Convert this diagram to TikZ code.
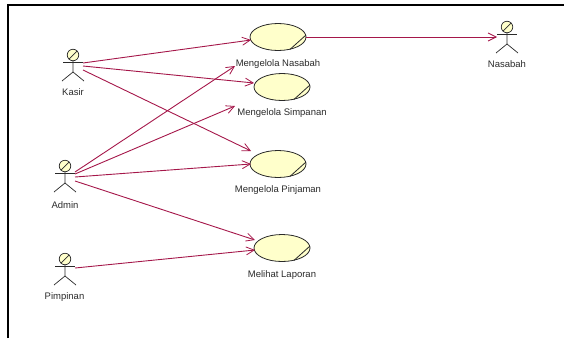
\documentclass[tikz,border=0pt]{standalone}
\usepackage{fontspec}
\setmainfont{Liberation Sans}
\usetikzlibrary{arrows.meta,shapes.geometric}
\definecolor{assoc}{HTML}{A5174A}
\definecolor{ucfill}{HTML}{FFFFCB}
\definecolor{ink}{HTML}{2A2A2A}
\tikzset{
  frameline/.style={line width=2pt,black},
  lbl/.style={font=\fontsize{9.5}{11}\selectfont,text=ink,inner sep=0pt},
  ucase/.style={ellipse,draw=ink,fill=ucfill,line width=0.8pt,minimum width=56pt,minimum height=27pt,inner sep=0pt},
  actorbody/.style={draw=ink,line width=0.7pt},
  actorhead/.style={circle,draw=ink,fill=ucfill,line width=0.7pt,minimum size=11.5pt,inner sep=0pt},
  actorpt/.style={inner sep=0pt,minimum size=0pt},
  assocline/.style={draw=assoc,line width=0.9pt,-{Straight Barb[length=8pt,width=8pt,line width=0.8pt]}},
}
\newcommand{\actorfig}[3]{%
  \node[actorpt] (#1) at (#2,#3) {};
  \node[actorhead] (#1h) at (#2,#3-7) {};
  \draw[actorbody] ([shift={(-4,4)}]#1h.center) -- ([shift={(4,-4)}]#1h.center);
  \draw[actorbody] (#2-10,#3) -- (#2+10,#3);
  \draw[actorbody] (#1h.south) -- (#2,#3+10) -- (#2-11,#3+19);
  \draw[actorbody] (#2,#3+10) -- (#2+11,#3+19);
}
\begin{document}
\begin{tikzpicture}[x=1pt,y=-1pt]
\useasboundingbox (0,0) rectangle (564,338);
\draw[frameline] (8,338) -- (8,5) -- (564,5);
\actorfig{kasir}{73}{62}
\actorfig{admin}{65}{173}
\actorfig{pimpinan}{65}{266}
\actorfig{nasabah}{507}{34}
\node[lbl] (kasirl) at (73,92.5) {Kasir};
\node[lbl] (adminl) at (65,205.5) {Admin};
\node[lbl] (pimpinanl) at (64.5,297.5) {Pimpinan};
\node[lbl] (nasabahl) at (507,64.5) {Nasabah};
\node[ucase] (ucn) at (278,37) {};
\node[ucase] (ucs) at (282,87) {};
\node[ucase] (ucp) at (278,164) {};
\node[ucase] (ucl) at (282,248) {};
\foreach \u in {ucn,ucs,ucp,ucl}{
  \draw[ink,line width=0.8pt] ([shift={(12,12.4)}]\u.center) -- ([shift={(28,-2)}]\u.center);
}
\node[lbl] (ucnl) at (278,64) {Mengelola Nasabah};
\node[lbl] (ucsl) at (282,113) {Mengelola Simpanan};
\node[lbl] (ucpl) at (278,190) {Mengelola Pinjaman};
\node[lbl] (ucll) at (282,275) {Melihat Laporan};
\draw[assocline] ([shift={(10,1)}]kasir.center) -- ([shift={(-27,3)}]ucn.center);
\draw[assocline] ([shift={(10,4)}]kasir.center) -- ([shift={(-28,-4)}]ucs.center);
\draw[assocline] ([shift={(10,8)}]kasir.center) -- ([shift={(-27,-13)}]ucp.center);
\draw[assocline] ([shift={(10,-1)}]admin.center) -- ([shift={(-43,2)}]ucnl.center);
\draw[assocline] ([shift={(10,1)}]admin.center) -- ([shift={(-47,-7)}]ucsl.center);
\draw[assocline] ([shift={(10,4)}]admin.center) -- ([shift={(-27,0)}]ucp.center);
\draw[assocline] ([shift={(10,8)}]admin.center) -- ([shift={(-27,-8)}]ucl.center);
\draw[assocline] ([shift={(10,2)}]pimpinan.center) -- ([shift={(-27,2)}]ucl.center);
\draw[assocline] (ucn.east) -- ([shift={(-10,3)}]nasabah.center);
\end{tikzpicture}
\end{document}
